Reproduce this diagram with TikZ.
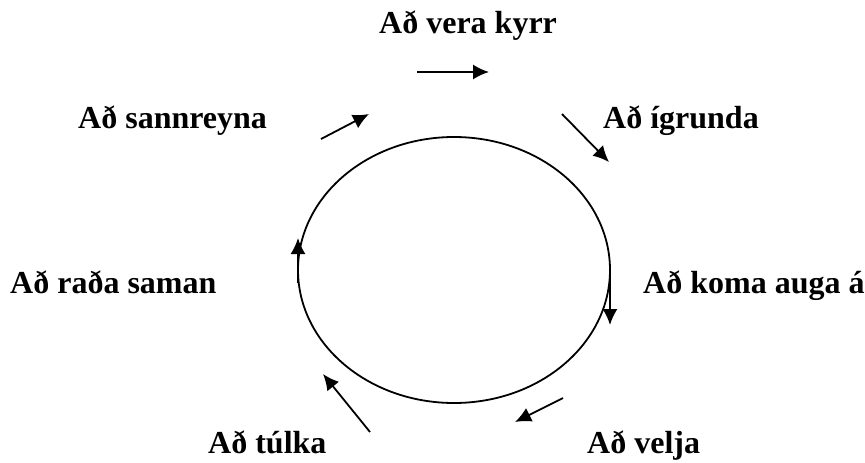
\documentclass[tikz,border=0pt]{standalone}
\usepackage{fontspec}
\setmainfont{Liberation Serif}
\usetikzlibrary{arrows.meta}

\begin{document}
\begin{tikzpicture}[x=1pt, y=-1pt,
        lbl/.style={font=\fontsize{32}{38}\selectfont\bfseries, anchor=base west, inner sep=0pt},
        arr/.style={-{Latex[length=16pt,width=15pt]}, line width=1.8pt}]
        \useasboundingbox (0,0) rectangle (865,463);
        % The cycle
        \draw[line width=1.8pt] (454,270) ellipse [x radius=156, y radius=133];
        % Stages
        \node[lbl] (vera) at (379,34) {Að vera kyrr};
        \node[lbl] (igrunda) at (603,128) {Að ígrunda};
        \node[lbl] (koma) at (643,293) {Að koma auga á};
        \node[lbl] (velja) at (587,453) {Að velja};
        \node[lbl] (tulka) at (208,453) {Að túlka};
        \node[lbl] (rada) at (10,293) {Að raða saman};
        \node[lbl] (sannreyna) at (78,128) {Að sannreyna};
        % Arrows round the cycle
        \foreach \n/\sx/\sy/\ex/\ey in {1/417/72/489/72, 2/562/114/609/162,
                3/610/270/610/325, 4/563/398/515/422,
                5/370/432/323/374, 6/298/283/298/238,
                7/321/139/369/114} {
            \coordinate (s\n) at (\sx,\sy);
            \coordinate (e\n) at (\ex,\ey);
            \draw[arr] (s\n) -- (e\n);
        }
    \end{tikzpicture}
\end{document}
